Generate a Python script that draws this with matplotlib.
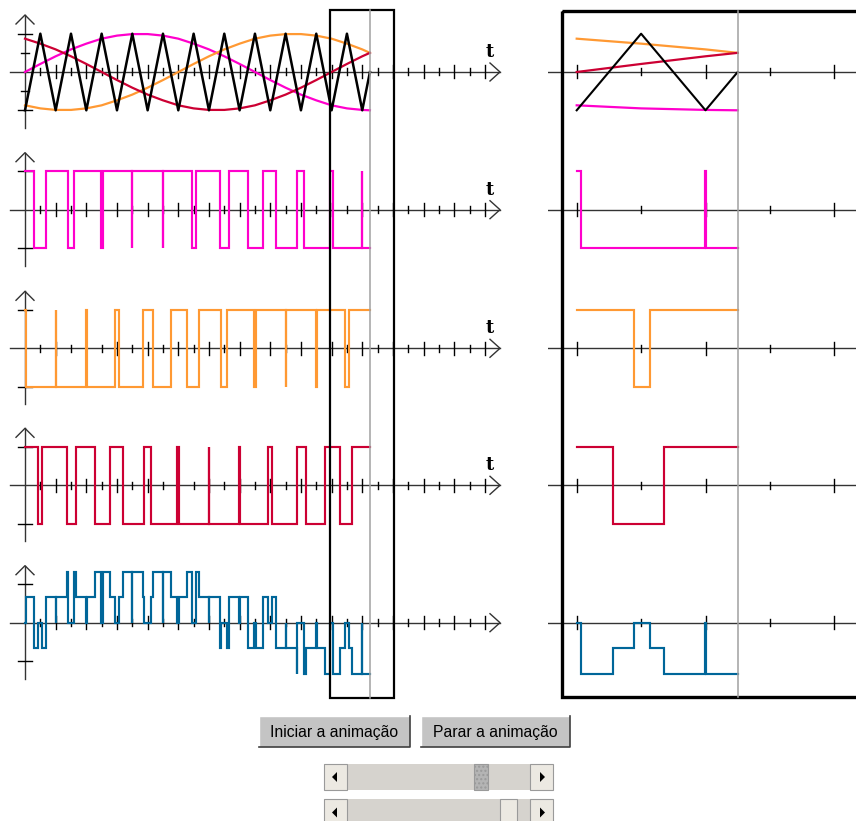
import numpy as np
import matplotlib.pyplot as plt
from matplotlib.patches import Rectangle, Polygon

W, H = 856, 821

# reference signals, sampled once per carrier half period
t_ref = list(range(23)) + [22.5]
v_magenta = [0.00, 0.21, 0.41, 0.59, 0.74, 0.87, 0.95, 0.99, 0.99, 0.95, 0.87, 0.74,
             0.59, 0.41, 0.21, 0.00, -0.21, -0.41, -0.59, -0.74, -0.87, -0.95, -0.99, -1.00]
v_orange = [-0.87, -0.95, -0.99, -0.99, -0.95, -0.87, -0.74, -0.59, -0.41, -0.21, 0.00, 0.21,
            0.41, 0.59, 0.74, 0.87, 0.95, 0.99, 0.99, 0.95, 0.87, 0.74, 0.59, 0.50]
v_red = [0.87, 0.74, 0.59, 0.41, 0.21, 0.00, -0.21, -0.41, -0.59, -0.74, -0.87, -0.95,
         -0.99, -0.99, -0.95, -0.87, -0.74, -0.59, -0.41, -0.21, 0.00, 0.21, 0.41, 0.50]
carrier_v = [-1, 1, -1, 1, -1, 1, -1, 1, -1, 1, -1, 1, -1, 1, -1, 1, -1, 1, -1, 1, -1, 1, -1, 0]

# switching instants of the three PWM outputs (all start high)
edges_magenta = [0.557, 1.356, 2.777, 3.19, 4.93, 5.064, 6.997, 7.003, 8.976, 9.025, 10.88, 11.138,
                 12.73, 13.326, 14.55, 15.55, 16.366, 17.768, 18.19, 19.928, 20.064, 21.997, 22.003]
edges_orange = [0.064, 1.997, 2.003, 3.976, 4.026, 5.879, 6.136, 7.727, 8.326, 9.542, 10.563, 11.356,
                12.777, 13.19, 14.928, 15.064, 16.997, 17.003, 18.976, 19.025, 20.882, 21.136]
edges_red = [0.879, 1.136, 2.73, 3.326, 4.55, 5.55, 6.366, 7.768, 8.19, 9.928, 10.064, 11.997,
             12.003, 13.976, 14.026, 15.879, 16.136, 17.727, 18.326, 19.542, 20.558, 21.36]

# phase voltage steps (levels in thirds)
blue_t = [0, 0.064, 0.557, 0.879, 1.136, 1.356, 1.997, 2.003, 2.73, 2.777, 3.19, 3.326,
          3.976, 4.026, 4.55, 4.93, 5.064, 5.55, 5.879, 6.136, 6.366, 6.997, 7.003, 7.727,
          7.768, 8.19, 8.326, 8.976, 9.025, 9.542, 9.928, 10.064, 10.563, 10.88, 11.138, 11.356,
          11.997, 12.003, 12.73, 12.777, 13.19, 13.326, 13.976, 14.026, 14.55, 14.928, 15.064, 15.55,
          15.879, 16.136, 16.366, 16.997, 17.003, 17.727, 17.768, 18.19, 18.326, 18.976, 19.025, 19.542,
          19.928, 20.064, 20.558, 20.882, 21.136, 21.36, 21.997, 22.003]
blue_thirds = [0, 2, -2, 0, -2, 2, 0, 2, 4, 0, 4, 2,
               0, 2, 4, 0, 4, 2, 0, 2, 4, 0, 4, 2,
               0, 2, 4, 0, 4, 2, 0, 2, 4, 0, 4, 2,
               0, 2, -2, 0, -2, 2, 0, 2, -2, 0, -2, 2,
               0, 2, -2, 0, -2, -4, 0, -4, -2, 0, -2, -4,
               0, -4, -2, 0, -2, -4, 0, -4]

t_end = 22.5
win_t0, win_t1 = 19.9, 24.05
button_labels = ["Iniciar a animação", "Parar a animação"]

C_MAG, C_ORA, C_RED, C_BLU = "#ff00cc", "#ff9933", "#cc0033", "#006699"
AX_C = "#333333"

# pixel geometry of the screen
row_y = [72, 209.7, 348.3, 485.3, 622.7]
unit = 38.3
L_x0, L_sc = 25.0, 15.33
R_x0, R_sc = 576.7, 64.4
split = 548


def pwm_steps(edges):
    ts = [0.0] + edges
    lv = [1 if i % 2 == 0 else -1 for i in range(len(ts))]
    return ts, lv


def clip_steps(ts, lv, t0):
    i = max(k for k in range(len(ts)) if ts[k] <= t0)
    return [t0] + ts[i + 1:], lv[i:]


def draw_steps(ax, ts, lv, color, lw=1.55):
    ax.step(list(ts) + [t_end], list(lv) + [lv[-1]], where="post", color=color, lw=lw,
            solid_joinstyle="miter", zorder=3)


fig = plt.figure(figsize=(W / 100, H / 100), dpi=100)
fig.patch.set_facecolor("white")


def add_px_axes(x0, x1, y0, y1):
    ax = fig.add_axes([x0 / W, 1 - y1 / H, (x1 - x0) / W, (y1 - y0) / H])
    ax.set_axis_off()
    ax.patch.set_alpha(0)
    return ax


half = 68
pwm_sets = [pwm_steps(edges_magenta), pwm_steps(edges_orange), pwm_steps(edges_red)]
pwm_cols = [C_MAG, C_ORA, C_RED]
blue_lv = [v / 3 for v in blue_thirds]

for r, yc in enumerate(row_y):
    axL = add_px_axes(0, split, yc - half, yc + half)
    axL.set_xlim((0 - L_x0) / L_sc, (split - L_x0) / L_sc)
    axL.set_ylim(-half / unit, half / unit)
    axR = add_px_axes(split, W, yc - half, yc + half)
    axR.set_xlim(20 + (split - R_x0) / R_sc, 20 + (W - R_x0) / R_sc)
    axR.set_ylim(-half / unit, half / unit)

    # left axis system
    t_arrow = (500 - L_x0) / L_sc
    axL.plot([(10 - L_x0) / L_sc, t_arrow], [0, 0], color=AX_C, lw=1, zorder=1)
    axL.plot([t_arrow - 10 / L_sc, t_arrow, t_arrow - 10 / L_sc], [9 / unit, 0, -9 / unit],
             color=AX_C, lw=1, zorder=1)
    for k in range(1, 31):
        h = (6.5 if k % 2 == 0 else 3.5) / unit
        axL.plot([k, k], [-h, h], color="black", lw=1, zorder=1)
    top = 57 / unit
    axL.plot([0, 0], [-56 / unit, top], color=AX_C, lw=1, zorder=1)
    axL.plot([-9 / L_sc, 0, 9 / L_sc], [top - 9 / unit, top, top - 9 / unit], color=AX_C, lw=1, zorder=1)
    for yv in (1, -1):
        axL.plot([-7 / L_sc, 7 / L_sc], [yv, yv], color="black", lw=1, zorder=1)
    if r == 0:
        for yv in (0.5, -0.5):
            axL.plot([-4 / L_sc, 4 / L_sc], [yv, yv], color="black", lw=1, zorder=1)
    if r < 4:
        axL.text((490 - L_x0) / L_sc, 20 / unit, "t", fontsize=13, fontweight="bold",
                 family="DejaVu Serif", ha="center", va="center")

    # right axis system
    axR.plot([19, 25], [0, 0], color=AX_C, lw=1, zorder=1)
    for k in range(20, 25):
        h = (6.5 if k % 2 == 0 else 3.5) / unit
        axR.plot([k, k], [-h, h], color="black", lw=1, zorder=1)

    if r == 0:
        axL.plot(t_ref, carrier_v, color="black", lw=1.8, zorder=4)
        for vals, c in ((v_magenta, C_MAG), (v_orange, C_ORA), (v_red, C_RED)):
            axL.plot(t_ref, vals, color=c, lw=1.6, zorder=3)
        m = np.array(t_ref) >= 20
        axR.plot(np.array(t_ref)[m], np.array(carrier_v)[m], color="black", lw=1.5, zorder=4)
        for vals, c in ((v_magenta, C_MAG), (v_orange, C_ORA), (v_red, C_RED)):
            axR.plot(np.array(t_ref)[m], np.array(vals)[m], color=c, lw=1.6, zorder=3)
    elif r < 4:
        ts, lv = pwm_sets[r - 1]
        draw_steps(axL, ts, lv, pwm_cols[r - 1])
        cts, clv = clip_steps(ts, lv, 20.0)
        draw_steps(axR, cts, clv, pwm_cols[r - 1])
    else:
        draw_steps(axL, blue_t, blue_lv, C_BLU)
        cts, clv = clip_steps(blue_t, blue_lv, 20.0)
        draw_steps(axR, cts, clv, C_BLU)

# overlay: zoom window, cursor, frame and controls (screen pixels)
ov = add_px_axes(0, W, 0, H)
ov.set_xlim(0, W)
ov.set_ylim(H, 0)
px = lambda t: L_x0 + L_sc * t
rpx = lambda t: R_x0 + R_sc * (t - 20)
ov.add_patch(Rectangle((px(win_t0), 10), px(win_t1) - px(win_t0), 688, fill=False,
                       ec="black", lw=1.6, zorder=5))
ov.plot([px(t_end), px(t_end)], [10, 698], color="#a0a0a0", lw=1.1, zorder=5)
ov.add_patch(Rectangle((562.5, 11), 320, 686, fill=False, ec="black", lw=2.4, zorder=5,
                       clip_on=True))
ov.plot([rpx(t_end), rpx(t_end)], [11, 697], color="#a0a0a0", lw=1.1, zorder=5)


def button(x0, x1, y0, y1, label):
    ov.add_patch(Rectangle((x0, y0), x1 - x0, y1 - y0, fc="#c4c4c4", ec="none", zorder=5))
    ov.plot([x0, x0, x1], [y1, y0, y0], color="white", lw=1, zorder=6)
    ov.plot([x0, x1, x1], [y1, y1, y0], color="#404040", lw=1.2, zorder=6)
    ov.text((x0 + x1) / 2, (y0 + y1) / 2 + 1, label, fontsize=11.3, family="Liberation Sans",
            ha="center", va="center", zorder=7)


button(259, 410, 716, 747, button_labels[0])
button(421, 570, 716, 747, button_labels[1])


def scrollbar(y0, y1, th0, th1, thumb_fc):
    ov.add_patch(Rectangle((324, y0), 229, y1 - y0, fc="#d6d3ce", ec="none", zorder=5))
    for bx in (324, 530):
        ov.add_patch(Rectangle((bx, y0), 23, y1 - y0, fc="#ece9e2", ec="#9a9a9a", lw=0.8, zorder=6))
    ym = (y0 + y1) / 2
    ov.add_patch(Polygon([[337, ym - 5], [337, ym + 5], [332, ym]], closed=True, fc="black", zorder=7))
    ov.add_patch(Polygon([[540, ym - 5], [540, ym + 5], [545, ym]], closed=True, fc="black", zorder=7))
    ov.add_patch(Rectangle((th0, y0), th1 - th0, y1 - y0, fc=thumb_fc, ec="#9a9a9a", lw=0.8,
                           hatch="...." if thumb_fc != "#ece9e2" else None, zorder=6))


scrollbar(764, 790, 474, 488, "#b4b4b4")
scrollbar(799, 826, 500, 517, "#ece9e2")

fig.savefig("out.png", dpi=100, facecolor="white")
